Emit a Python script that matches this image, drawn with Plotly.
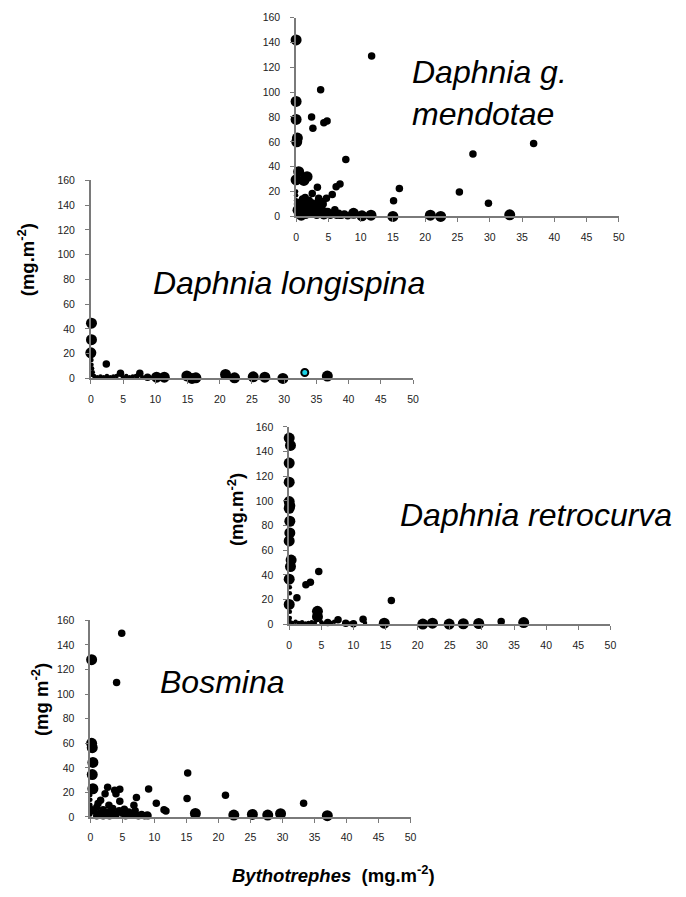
import plotly.graph_objects as go

W, H = 686, 897

# ---------------- data ----------------
# Panel 1: Daphnia g. mendotae
mend_big_x = [0, 0, 0, 0.1, 0.2, 0.4, 0, 1.7, 1.2, 8.9, 10.2, 11.6, 15.0, 20.8, 22.4, 33.1, 0.3, 1.5, 3.0,
              0.5, 2.2, 3.6, 4.3, 0.8]
mend_big_y = [142, 92.5, 78, 60, 63, 36, 29.5, 32, 29, 2.5, 0.5, 1, 0, 1, 0, 1.3, 5, 3, 3,
              10, 8, 4, 2, 1]
mend_small_x = [11.7, 3.8, 2.4, 2.6, 4.3, 4.8, 7.7, 27.4, 36.8, 16.0, 15.1, 25.3, 29.8, 3.3, 6.8, 6.2,
                5.6, 4.7, 3.5, 2.5, 1.4, 6.0, 6.6,
                0.3, 0.5, 0.8, 1.0, 1.2, 1.5, 1.7, 2.0, 2.2, 2.5, 2.8, 3.0, 3.2, 3.5, 3.8, 4.0, 4.3, 4.6,
                5.0, 5.3, 5.8, 6.3, 7.0, 7.5, 8.0, 0.6, 1.4, 2.4, 3.4, 1.0, 2.0, 4.2, 3.9,
                1.1, 1.9, 2.7, 3.1, 4.9, 5.5, 6.8, 7.3, 0.9, 2.9]
mend_small_y = [129, 102, 80, 71, 75.4, 76.7, 45.8, 50.3, 58.7, 22.5, 12.7, 19.6, 10.6, 23.5, 26, 23.8,
                17.7, 14.6, 14.6, 18.5, 15.3, 5.3, 2.6,
                2, 5, 8, 3, 6, 1, 9, 4, 7, 2, 10, 5, 1, 8, 3, 6, 1, 4,
                2, 1, 3, 1, 1, 2, 0.5, 11, 12, 11, 12, 14, 13, 10, 12,
                10, 6, 5, 8, 4, 2, 1, 1.5, 7, 3]
mend_tiny_x = [0, 0, 0, 0, 0, 0, 0, 0.2, 0.4, 0.6]
mend_tiny_y = [20, 17, 13, 10, 7, 4, 2, 1, 0.5, 1]

# Panel 2: Daphnia longispina
long_big_x = [0.1, 0.1, 0, 10.2, 11.4, 14.9, 15.7, 16.3, 20.9, 22.3, 25.2, 27.0, 29.8, 36.7]
long_big_y = [44.6, 31.3, 20.7, 1, 1, 2, 0, 0.5, 3.2, 0.5, 1.3, 1, 0, 1.9]
long_small_x = [2.4, 4.6, 7.6, 8.8]
long_small_y = [11.7, 4.2, 4.2, 1]
long_tiny_x = [0.1, 0.2, 0.3, 0.5, 1, 1.5, 2, 2.5, 3, 3.5, 4, 5, 5.5, 6, 6.5, 7, 7.2, 8, 9.3, 0.1, 0.1]
long_tiny_y = [15, 8, 5, 2, 1, 1.5, 1, 2, 1, 1.5, 2, 1, 2, 1, 1.5, 2, 0.5, 1, 0.5, 11, 3]
long_cyan_x = [33.2]
long_cyan_y = [4.8]

# Panel 3: Daphnia retrocurva
retro_big_x = [0, 0.2, 0, 0, 0, 0.1, 0, 0.1, 0.1, 0, 0.3, 0.2, 0, 0, 14.8, 20.8, 22.3, 24.9, 27.1, 29.5, 36.5, 4.4, 4.4]
retro_big_y = [151, 145, 130.7, 115.2, 99.5, 96, 94, 83.5, 74, 67.5, 52, 46.7, 36.5, 16, 0.8, 0, 0.8, 0, 0.3, 0.5, 1.3, 10.4, 6]
retro_small_x = [1.2, 2.6, 3.3, 4.6, 15.9, 11.5, 7.6, 8.8, 10.0, 33.0, 6.0]
retro_small_y = [21.3, 32, 33.9, 42.7, 19.2, 4, 3.5, 0.8, 0.3, 2.1, 1.3]
retro_tiny_x = [1.5, 2, 3, 4, 5, 0.1, 0.1, 0.1, 0.1, 0.1, 0.5, 1, 2.5, 3.5, 5.5, 6.5, 7, 9.5, 11.8]
retro_tiny_y = [1, 1.5, 1, 1, 1.5, 30, 25, 10, 5, 2, 1, 2, 0.5, 1.5, 0.5, 1, 2, 0.5, 1]

# Panel 4: Bosmina
bos_big_x = [0.2, 0.2, 0.3, 0.4, 0.3, 0.4, 16.4, 22.4, 25.3, 27.7, 29.7, 37.0]
bos_big_y = [128, 60, 56.4, 44.4, 34.5, 23, 2.9, 1.6, 2.1, 1.6, 2.7, 1.1]
bos_small_x = [4.9, 4.1, 2.7, 3.8, 4.6, 4.0, 2.3, 1.6, 4.6, 2.9, 7.2, 6.8, 9.1, 10.3, 11.5, 11.8, 15.2,
               15.1, 21.1, 33.3, 5.3, 8.9,
               0.5, 1.0, 1.5, 2.0, 2.5, 3.0, 3.5, 4.0, 4.5, 5.0, 5.5, 6.0, 6.5, 7.0, 7.5, 8.0, 8.5, 9.0,
               1.0, 2.0, 3.0, 1.2, 2.2]
bos_small_y = [149.5, 109.4, 24.3, 21.7, 22.5, 19, 19, 13.6, 12.8, 9.6, 15.8, 9.6, 22.7, 11.2, 5.9, 4.8, 35.8,
               15, 17.6, 11.2, 6.4, 1.6,
               5, 8, 3, 6, 2, 4, 7, 2, 5, 3, 1, 4, 2, 5, 1, 2, 1, 1,
               1, 1, 1, 11, 4]
bos_tiny_x = [0, 0, 0, 0, 0, 0.1, 0.1]
bos_tiny_y = [2, 6, 10, 14, 18, 8, 4]

xticks = [0, 5, 10, 15, 20, 25, 30, 35, 40, 45, 50]
yticks = [0, 20, 40, 60, 80, 100, 120, 140, 160]

# ---------------- layout geometry (pixels) ----------------
FONT = "Liberation Sans, Arial, sans-serif"

def px_x(p):
    return p / W

def px_y(p):
    return 1 - p / H

panels = [
    # (x0px, x50px, y0px, y160px)
    (297, 624, 213.3, 11.7),
    (89, 415.5, 377.5, 176.7),
    (290, 615.5, 626.5, 426.7),
    (88.5, 413, 822, 622.7),
]

fig = go.Figure()

series = [
    (mend_big_x, mend_big_y, mend_small_x, mend_small_y, mend_tiny_x, mend_tiny_y),
    (long_big_x, long_big_y, long_small_x, long_small_y, long_tiny_x, long_tiny_y),
    (retro_big_x, retro_big_y, retro_small_x, retro_small_y, retro_tiny_x, retro_tiny_y),
    (bos_big_x, bos_big_y, bos_small_x, bos_small_y, bos_tiny_x, bos_tiny_y),
]

for i, (bx, by, sx, sy, tx, ty) in enumerate(series):
    n = "" if i == 0 else str(i + 1)
    xa, ya = "x" + n, "y" + n
    fig.add_trace(go.Scatter(x=tx, y=ty, mode="markers", xaxis=xa, yaxis=ya, cliponaxis=False,
                             marker=dict(color="black", size=4.5), showlegend=False, hoverinfo="skip"))
    fig.add_trace(go.Scatter(x=sx, y=sy, mode="markers", xaxis=xa, yaxis=ya, cliponaxis=False,
                             marker=dict(color="black", size=7.5), showlegend=False))
    fig.add_trace(go.Scatter(x=bx, y=by, mode="markers", xaxis=xa, yaxis=ya, cliponaxis=False,
                             marker=dict(color="black", size=11), showlegend=False))

fig.add_trace(go.Scatter(x=long_cyan_x, y=long_cyan_y, mode="markers", xaxis="x2", yaxis="y2",
                         cliponaxis=False,
                         marker=dict(color="#19d3e6", size=7, line=dict(color="black", width=2)),
                         showlegend=False))

axis_common = dict(showline=True, linecolor="#7a7a7a", linewidth=1.6, ticks="outside", ticklen=4,
                   tickcolor="#7a7a7a", tickwidth=1.2, showgrid=False, zeroline=False,
                   tickfont=dict(family=FONT, size=10.5, color="#222"))

layout = dict(width=W, height=H, margin=dict(l=0, r=0, t=0, b=0),
              paper_bgcolor="white", plot_bgcolor="rgba(0,0,0,0)", showlegend=False,
              font=dict(family=FONT))

for i, (x0, x50, y0, y160) in enumerate(panels):
    n = "" if i == 0 else str(i + 1)
    layout["xaxis" + n] = dict(axis_common, domain=[px_x(x0), px_x(x50)], range=[0, 50],
                               tickvals=xticks, anchor="y" + n, ticklabelstandoff=6)
    layout["yaxis" + n] = dict(axis_common, domain=[px_y(y0), px_y(y160)], range=[0, 160],
                               tickvals=yticks, anchor="x" + n, ticklabelstandoff=8)

fig.update_layout(**layout)

ann = []
def label(text, xpx, ypx, size, xanchor="left", **kw):
    ann.append(dict(text=text, x=px_x(xpx), y=px_y(ypx), xref="paper", yref="paper",
                    xanchor=xanchor, yanchor="middle", showarrow=False,
                    font=dict(family=FONT, size=size, color="black"), **kw))

label("<i>Daphnia g.</i><br><i>mendotae</i>", 412, 88, 32, align="left")
label("<i>Daphnia longispina</i>", 150, 281, 32)
label("<i>Daphnia retrocurva</i>", 400, 516, 32)
label("<i>Bosmina</i>", 157, 685, 32)

ylab = "<b>(mg.m<sup>-2</sup>)</b>"
label(ylab, 23, 257, 18.5, xanchor="center", textangle=-90)
label(ylab, 236, 510, 18.5, xanchor="center", textangle=-90)
label("<b>(mg m<sup>-2</sup>)</b>", 37, 703, 18.5, xanchor="center", textangle=-90)

label("<b><i>Bythotrephes</i>  (mg.m<sup>-2</sup>)</b>", 335, 880, 18.5, xanchor="center")

fig.update_layout(annotations=ann)
fig.write_html("out.html")
